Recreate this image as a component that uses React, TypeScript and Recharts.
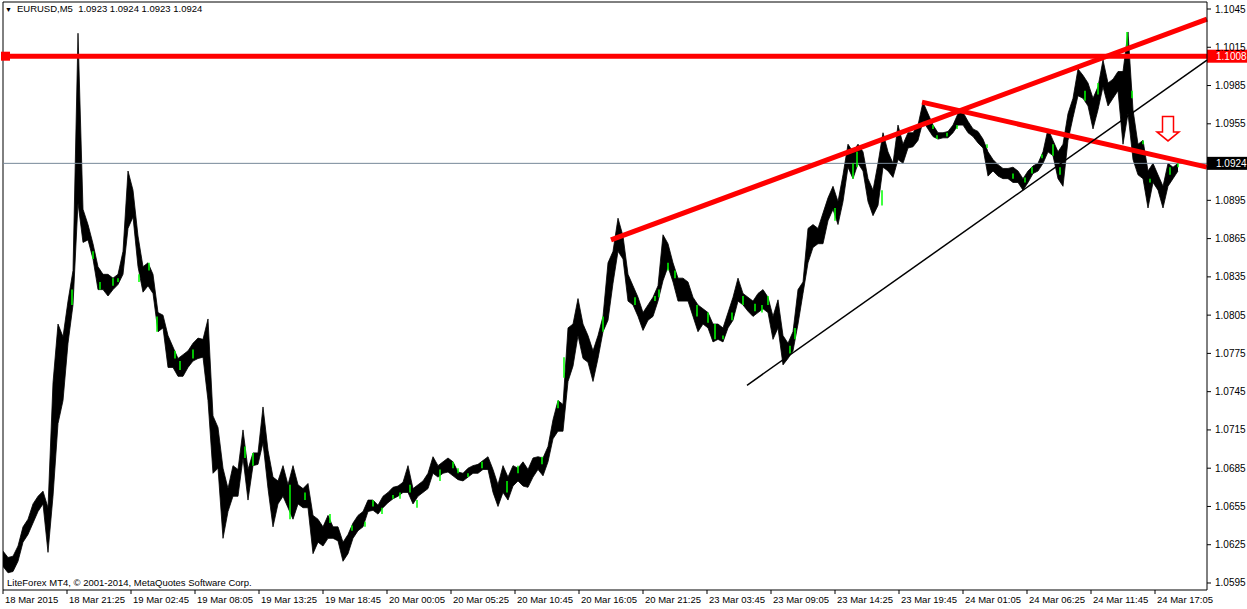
import React from "react";
import {
  ComposedChart,
  Area,
  Scatter,
  ErrorBar,
  XAxis,
  YAxis,
  ReferenceLine,
  ReferenceDot,
} from "recharts";

const FONT = "Tahoma, 'Liberation Sans', sans-serif";

// one sample every 5 bars (M5 -> 25 min), low / high of the bars in that slot
const barStep = 5;

const lows = [
  1.0608, 1.0603, 1.0604, 1.0612, 1.0627, 1.0633, 1.0642, 1.0651, 1.0657, 1.0619,
  1.0663, 1.072, 1.0738, 1.0783, 1.0813, 1.0893, 1.0862, 1.0864, 1.0849, 1.0825,
  1.0825, 1.082, 1.0825, 1.0829, 1.0837, 1.0873, 1.0882, 1.0843, 1.0823, 1.0828,
  1.0822, 1.0792, 1.0795, 1.0764, 1.0764, 1.0757, 1.0757, 1.0764, 1.0769, 1.0771,
  1.0772, 1.0738, 1.0681, 1.0685, 1.063, 1.0651, 1.0663, 1.0663, 1.0693, 1.066,
  1.0687, 1.0688, 1.0705, 1.0669, 1.0639, 1.0657, 1.0663, 1.0654, 1.0645, 1.0657,
  1.0654, 1.0654, 1.0618, 1.0627, 1.0624, 1.063, 1.063, 1.0628, 1.0612, 1.0618,
  1.063, 1.0636, 1.0639, 1.0651, 1.0652, 1.0649, 1.0654, 1.0658, 1.0661, 1.0663,
  1.0666, 1.0666, 1.0657, 1.0663, 1.0666, 1.0669, 1.0681, 1.0678, 1.0681, 1.0682,
  1.0679, 1.0676, 1.0675, 1.0678, 1.0681, 1.0681, 1.0684, 1.0684, 1.0666, 1.0655,
  1.0666, 1.066, 1.0671, 1.0675, 1.0671, 1.067, 1.0678, 1.0684, 1.0679, 1.069,
  1.0708, 1.0714, 1.0714, 1.0753, 1.0765, 1.0789, 1.0771, 1.0768, 1.0753, 1.0771,
  1.0792, 1.0801, 1.083, 1.0855, 1.0849, 1.0816, 1.0813, 1.0804, 1.0793, 1.0801,
  1.0804, 1.0816, 1.0832, 1.0843, 1.0831, 1.0816, 1.0816, 1.0816, 1.0804, 1.0792,
  1.0798, 1.0795, 1.0784, 1.0786, 1.0784, 1.0795, 1.0801, 1.0816, 1.0813, 1.0808,
  1.0804, 1.0807, 1.081, 1.0807, 1.0786, 1.0795, 1.0766, 1.0771, 1.0777, 1.0798,
  1.0822, 1.0846, 1.0858, 1.0861, 1.0861, 1.0879, 1.0888, 1.0876, 1.0894, 1.0921,
  1.0912, 1.0924, 1.0918, 1.0894, 1.0883, 1.0891, 1.0921, 1.0918, 1.0913, 1.0927,
  1.0924, 1.0936, 1.0937, 1.0942, 1.0957, 1.0951, 1.0945, 1.0943, 1.0944, 1.0944,
  1.0948, 1.0954, 1.0954, 1.0948, 1.0945, 1.094, 1.0936, 1.0914, 1.0918, 1.0914,
  1.0912, 1.0912, 1.0909, 1.0909, 1.0903, 1.0909, 1.0916, 1.0918, 1.0924, 1.0933,
  1.093, 1.0912, 1.0906, 1.0942, 1.096, 1.0977, 1.0975, 1.0969, 1.0951, 1.0966,
  1.0984, 1.0969, 1.0975, 1.0981, 1.0939, 1.0963, 1.0927, 1.0915, 1.0912, 1.0889,
  1.0909, 1.0903, 1.0889, 1.0906, 1.0912, 1.0918,
];

const highs = [
  1.062, 1.0615, 1.0616, 1.0624, 1.0639, 1.0645, 1.0657, 1.0663, 1.0667, 1.0654,
  1.0752, 1.0798, 1.0788, 1.0816, 1.084, 1.1026, 1.0888, 1.0876, 1.0861, 1.0843,
  1.0837, 1.0837, 1.0834, 1.0837, 1.0855, 1.0918, 1.0903, 1.0867, 1.0843, 1.0846,
  1.0837, 1.0807, 1.0805, 1.0789, 1.078, 1.0771, 1.0774, 1.0777, 1.0783, 1.0787,
  1.0786, 1.0802, 1.0726, 1.0717, 1.0685, 1.0669, 1.0687, 1.0684, 1.0715, 1.0684,
  1.0697, 1.0697, 1.0733, 1.0699, 1.0678, 1.0675, 1.0687, 1.0672, 1.0687, 1.0672,
  1.0669, 1.0673, 1.0648, 1.0645, 1.0639, 1.0648, 1.0639, 1.0639, 1.0627, 1.0633,
  1.0642, 1.0648, 1.0651, 1.066, 1.066, 1.0656, 1.0663, 1.0666, 1.067, 1.0671,
  1.0674, 1.0687, 1.0669, 1.0672, 1.0675, 1.0681, 1.0694, 1.0687, 1.069, 1.0693,
  1.069, 1.0682, 1.0681, 1.0685, 1.0687, 1.0688, 1.0691, 1.0694, 1.0684, 1.0672,
  1.0687, 1.0678, 1.0687, 1.0685, 1.069, 1.0684, 1.0693, 1.0694, 1.0693, 1.0702,
  1.0723, 1.0738, 1.0735, 1.0795, 1.0798, 1.0818, 1.0798, 1.0789, 1.0777, 1.0789,
  1.0804, 1.0846, 1.0855, 1.0881, 1.0867, 1.0837, 1.0828, 1.0819, 1.0807, 1.0813,
  1.0819, 1.0828, 1.0868, 1.0861, 1.0846, 1.0834, 1.0834, 1.0831, 1.0819, 1.0813,
  1.081, 1.0807, 1.0798, 1.0798, 1.0795, 1.0807, 1.0819, 1.0834, 1.0822, 1.0819,
  1.0816, 1.0822, 1.0825, 1.0819, 1.0804, 1.0817, 1.0789, 1.0783, 1.0792, 1.0825,
  1.0831, 1.0873, 1.0876, 1.0873, 1.0885, 1.0897, 1.0906, 1.0894, 1.0915, 1.0939,
  1.0933, 1.0939, 1.0933, 1.0912, 1.0903, 1.0924, 1.0948, 1.0933, 1.0924, 1.0954,
  1.0939, 1.0948, 1.0948, 1.0954, 1.0972, 1.0963, 1.0954, 1.0948, 1.0948, 1.0949,
  1.0954, 1.0963, 1.0964, 1.0957, 1.0951, 1.0949, 1.0943, 1.0933, 1.0927, 1.0923,
  1.092, 1.092, 1.0921, 1.0918, 1.0912, 1.0918, 1.0922, 1.0924, 1.0933, 1.0951,
  1.0942, 1.0933, 1.0939, 1.0963, 1.0975, 1.0998, 1.0993, 1.0987, 1.0975, 1.0984,
  1.1005, 1.0987, 1.099, 1.0996, 1.0996, 1.1027, 1.0966, 1.0939, 1.0942, 1.0918,
  1.0924, 1.0915, 1.0906, 1.0924, 1.0921, 1.0924,
];

// visible bull candles (lime), bar index and low / high
const bullBars = [
  69, 90, 97, 110, 115, 136, 146, 154, 172, 177, 190,
  242, 250, 287, 302, 327, 349, 362, 370, 379, 390, 397,
  407, 414, 437, 450, 455, 465, 479, 504, 515, 539, 555, 561, 600,
  632, 652, 656, 665, 672, 694, 705, 712, 720, 729, 740, 752, 759, 765, 787, 792,
  832, 850, 854, 879, 930, 934, 944, 954, 984,
  1010, 1022, 1029, 1039, 1050, 1057, 1082, 1095, 1124, 1129, 1140, 1147, 1167, 1175,
];
const bullLows = [
  1.0813, 1.0849, 1.0825, 1.0828, 1.0831, 1.0831, 1.084, 1.0792, 1.0771, 1.0762, 1.0771,
  1.0693, 1.0687, 1.0645, 1.066, 1.0642, 1.0636, 1.0639, 1.0655, 1.0649, 1.0661, 1.0661,
  1.0666, 1.0654, 1.0675, 1.0685, 1.0681, 1.0678, 1.0685, 1.0666, 1.0681, 1.0688, 1.0732, 1.0756, 1.0792,
  1.0813, 1.0816, 1.0819, 1.084, 1.0834, 1.0804, 1.0799, 1.0786, 1.0786, 1.0801, 1.0813, 1.0808, 1.0807, 1.0813, 1.0775, 1.0786,
  1.0879, 1.0912, 1.0921, 1.0891, 1.0951, 1.0943, 1.0945, 1.0951, 1.0936,
  1.0912, 1.0909, 1.0916, 1.0928, 1.093, 1.0915, 1.0973, 1.0978, 1.1014, 1.0975, 1.0939, 1.0909, 1.0915, 1.0921,
];
const bullHighs = [
  1.0825, 1.0855, 1.0831, 1.0834, 1.0834, 1.0837, 1.0846, 1.0804, 1.0777, 1.0769, 1.0778,
  1.0702, 1.0697, 1.0672, 1.0666, 1.0649, 1.064, 1.0643, 1.066, 1.0654, 1.0664, 1.0666,
  1.0672, 1.066, 1.0684, 1.069, 1.0685, 1.0681, 1.069, 1.0675, 1.0687, 1.0694, 1.0738, 1.0772, 1.0804,
  1.0819, 1.082, 1.0825, 1.0846, 1.084, 1.0813, 1.0807, 1.0798, 1.0789, 1.0807, 1.082, 1.0814, 1.0813, 1.082, 1.0781, 1.0795,
  1.0889, 1.0924, 1.0933, 1.0903, 1.0954, 1.0946, 1.0948, 1.0954, 1.0939,
  1.0916, 1.0913, 1.0921, 1.0931, 1.0939, 1.0921, 1.0981, 1.0987, 1.1027, 1.0981, 1.0942, 1.0912, 1.0921, 1.0924,
];

// one label every 64 bars
const barsPerLabel = 64;
const timeLabels = [
  "18 Mar 2015", "18 Mar 21:25", "19 Mar 02:45", "19 Mar 08:05", "19 Mar 13:25",
  "19 Mar 18:45", "20 Mar 00:05", "20 Mar 05:25", "20 Mar 10:45", "20 Mar 16:05",
  "20 Mar 21:25", "23 Mar 03:45", "23 Mar 09:05", "23 Mar 14:25", "23 Mar 19:45",
  "24 Mar 01:05", "24 Mar 06:25", "24 Mar 11:45", "24 Mar 17:05",
];

const priceTicks = [
  1.0595, 1.0625, 1.0655, 1.0685, 1.0715, 1.0745, 1.0775, 1.0805, 1.0835,
  1.0865, 1.0895, 1.0955, 1.0985, 1.1015, 1.1045,
];
const priceDomain = [1.05895, 1.10505];
const barDomain = [0, 1204];

const levelPrice = 1.1008;
const lastPrice = 1.0924;

// drawn trendlines: [bar, price] -> [bar, price]
const trendLines = [
  { from: [608, 1.0864], to: [1204, 1.1037], color: "#ff0000", width: 5 },
  { from: [919, 1.0972], to: [1204, 1.0921], color: "#ff0000", width: 5 },
  { from: [744, 1.075], to: [1204, 1.1005], color: "#000000", width: 1.5 },
];

const arrowMark = { bar: 1165, price: 1.0951 };

const data = lows.map((lo, k) => ({ bar: k * barStep, range: [lo, highs[k]] }));
const bullData = bullBars.map((b, k) => ({
  bar: b,
  mid: (bullLows[k] + bullHighs[k]) / 2,
  half: (bullHighs[k] - bullLows[k]) / 2,
}));
const timeTicks = timeLabels.map((_, k) => k * barsPerLabel);

function TimeTick({ x, y, payload }: any) {
  const label = timeLabels[Math.round(payload.value / barsPerLabel)];
  return (
    <text x={x + 2} y={y} dy="0.71em" fontSize={9.5} fontFamily={FONT} fill="#000" textAnchor="start">
      {label}
    </text>
  );
}

function PriceTick({ x, y, payload }: any) {
  return (
    <text x={x} y={y} dy="0.35em" fontSize={10} fontFamily={FONT} fill="#000" textAnchor="start">
      {payload.value.toFixed(4)}
    </text>
  );
}

function PriceTag({ viewBox, text, bg, marker }: any) {
  if (!viewBox) return null;
  const { x, y, width } = viewBox;
  const right = x + width;
  return (
    <g>
      {marker && <rect x={x - 2} y={y - 4.5} width={9} height={9} fill={bg} />}
      <rect x={right} y={y - 6.5} width={40} height={13} fill={bg} />
      <text x={right + 9} y={y} dy="0.35em" fill="#fff" fontSize={10} fontFamily={FONT}>
        {text}
      </text>
    </g>
  );
}

function DownArrow({ cx, cy }: any) {
  const d = `M${cx - 5.5},${cy - 12.5} L${cx + 5.5},${cy - 12.5} L${cx + 5.5},${cy + 3} L${cx + 11},${cy + 3} L${cx},${cy + 12} L${cx - 11},${cy + 3} L${cx - 5.5},${cy + 3} Z`;
  return <path d={d} fill="#fff" stroke="#ff0000" strokeWidth={1.5} />;
}

export default function App() {
  return (
    <div style={{ position: "absolute", left: 0, top: 0, width: 1247, height: 609, background: "#fff" }}>
      <ComposedChart width={1247} height={609} data={data} margin={{ top: 2, right: 0, bottom: 0, left: 3 }}>
        <XAxis
          dataKey="bar"
          type="number"
          domain={barDomain}
          allowDataOverflow
          ticks={timeTicks}
          interval={0}
          tick={<TimeTick />}
          tickSize={4}
          tickMargin={2}
          height={19}
          axisLine={{ stroke: "#000" }}
          tickLine={{ stroke: "#000" }}
        />
        <YAxis
          orientation="right"
          type="number"
          domain={priceDomain}
          allowDataOverflow
          ticks={priceTicks}
          interval={0}
          tick={<PriceTick />}
          tickSize={4}
          tickMargin={4}
          width={40}
          axisLine={{ stroke: "#000" }}
          tickLine={{ stroke: "#000" }}
        />
        {/* chart frame */}
        <ReferenceLine y={priceDomain[1]} stroke="#000" strokeWidth={1} />
        <ReferenceLine x={barDomain[0]} stroke="#000" strokeWidth={1} />

        <ReferenceLine
          y={lastPrice}
          stroke="#778899"
          strokeWidth={1}
          label={<PriceTag text={lastPrice.toFixed(4)} bg="#000" />}
        />

        <Area
          dataKey="range"
          type="linear"
          stroke="#000"
          strokeWidth={0.8}
          fill="#000"
          fillOpacity={1}
          dot={false}
          activeDot={false}
          isAnimationActive={false}
        />
        <Scatter data={bullData} dataKey="mid" shape={() => <g />} isAnimationActive={false}>
          <ErrorBar dataKey="half" direction="y" width={0} stroke="#00ff00" strokeWidth={1.5} isAnimationActive={false} />
        </Scatter>

        <ReferenceLine
          y={levelPrice}
          stroke="#ff0000"
          strokeWidth={5}
          label={<PriceTag text={levelPrice.toFixed(4)} bg="#ff0000" marker />}
        />
        {trendLines.map((t, k) => (
          <ReferenceLine
            key={k}
            segment={[
              { x: t.from[0], y: t.from[1] },
              { x: t.to[0], y: t.to[1] },
            ]}
            stroke={t.color}
            strokeWidth={t.width}
          />
        ))}
        <ReferenceDot x={arrowMark.bar} y={arrowMark.price} r={0} shape={(p: any) => <DownArrow {...p} />} />
      </ComposedChart>

      <div
        style={{
          position: "absolute",
          left: 5,
          top: 3,
          fontFamily: FONT,
          fontSize: 9.5,
          lineHeight: "12px",
          whiteSpace: "pre",
          color: "#000",
        }}
      >
        <span style={{ fontSize: 7, marginRight: 5 }}>▼</span>
        {"EURUSD,M5  1.0923 1.0924 1.0923 1.0924"}
      </div>
      <div
        style={{
          position: "absolute",
          left: 7,
          top: 577,
          fontFamily: FONT,
          fontSize: 9.5,
          lineHeight: "12px",
          whiteSpace: "pre",
          color: "#000",
        }}
      >
        LiteForex MT4, © 2001-2014, MetaQuotes Software Corp.
      </div>
    </div>
  );
}
